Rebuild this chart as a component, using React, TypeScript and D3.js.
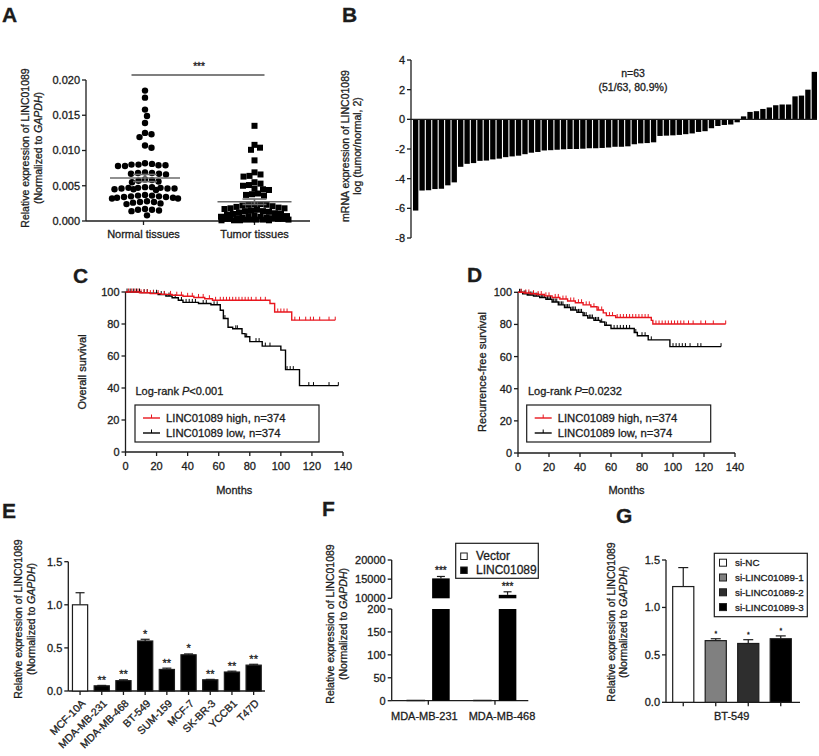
import React from 'react';
import * as d3 from 'd3';

const FONT = '"Liberation Sans", Arial, Helvetica, sans-serif';
const INK = '#1c1c1c';
const RED = '#e8161e';
const AXW = 1.3;

// ---------- Panel A ----------
const aCategories = ['Normal tissues', 'Tumor tissues'];
const aYTicks = [0, 0.005, 0.01, 0.015, 0.02];
const normalTissues = [
  0.0185, 0.0175, 0.0158, 0.0149, 0.0139, 0.0125, 0.0123, 0.0119, 0.0107, 0.0104,
  0.0082, 0.0081, 0.0080, 0.0080, 0.0079, 0.0079, 0.0078, 0.0078,
  0.0069, 0.0068, 0.0068, 0.0067, 0.0067, 0.0066,
  0.0059, 0.0058, 0.0057, 0.0056, 0.0055,
  0.0048, 0.0048, 0.0047, 0.0047, 0.0047, 0.0046, 0.0046, 0.0046, 0.0045, 0.0045, 0.0044,
  0.0037, 0.0036, 0.0036, 0.0035, 0.0035, 0.0034, 0.0034, 0.0033, 0.0033, 0.0032, 0.0032,
  0.0028, 0.0027, 0.0027, 0.0026, 0.0025, 0.0024,
  0.0017, 0.0016, 0.0016, 0.0015, 0.0014,
  0.0008,
];
const tumorTissues = [
  0.0135, 0.0108, 0.0104, 0.0101, 0.0086,
  0.0069, 0.0066, 0.0064, 0.0063,
  0.0055, 0.0053, 0.0051, 0.0050,
  0.0046, 0.0045, 0.0044,
  0.0039, 0.0038, 0.0037, 0.0036,
  0.0024, 0.0024, 0.0023, 0.0023, 0.0022, 0.0021, 0.0020, 0.0019, 0.0018, 0.0018,
  0.0017, 0.0016, 0.0015, 0.0014, 0.0014, 0.0013, 0.0012, 0.0011, 0.0010, 0.0010,
  0.0009, 0.0008, 0.0007, 0.0007, 0.0006, 0.0006, 0.0005, 0.0005, 0.0004, 0.0004,
  0.0003, 0.0003, 0.0003, 0.0003, 0.0002, 0.0002, 0.0002, 0.0002, 0.0002, 0.0001,
  0.0001, 0.0001, 0.0001,
];

// ---------- Panel B ----------
const bYTicks = [-8, -6, -4, -2, 0, 2, 4];
const bFoldChange = [
  -6.15, -4.8, -4.78, -4.7, -4.68, -4.45, -4.25, -3.2, -3.0, -2.95,
  -2.8, -2.78, -2.7, -2.65, -2.55, -2.5, -2.45, -2.35, -2.25, -2.2,
  -2.1, -2.08, -2.05, -2.02, -2.0, -2.0, -1.98, -1.95, -1.95, -1.93,
  -1.9, -1.85, -1.85, -1.82, -1.68, -1.62, -1.6, -1.55, -1.12, -1.1,
  -1.08, -1.05, -1.0, -0.95, -0.85, -0.8, -0.6, -0.45, -0.38, -0.35,
  -0.2, 0.2, 0.5, 0.55, 0.7, 0.8, 0.95, 1.0, 1.0, 1.55,
  1.6, 2.0, 3.2,
];

// ---------- Panels C / D (Kaplan-Meier) ----------
const kmXTicks = [0, 20, 40, 60, 80, 100, 120, 140];
const kmYTicks = [0, 20, 40, 60, 80, 100];
const kmSeries = ['LINC01089 high, n=374', 'LINC01089 low, n=374'];

const osHighSteps: [number, number][] = [
  [0, 100], [9, 99.5], [16, 99.0], [23, 98.5], [30, 98.0], [37, 97.3], [44, 96.6], [51, 95.8],
  [56, 94.8], [93, 92.8], [96, 87.5], [107, 82.4],
];
const osHighEnd = 135;
const osHighCensor = [2, 4, 6, 8, 10, 12, 14, 16, 18, 21, 25, 29, 33, 36, 40, 43, 47, 50, 54, 58, 61, 63, 65, 67, 69, 71, 73, 75, 77, 79, 81, 84, 87, 90, 98, 100, 102, 104, 109, 112, 116, 119, 121, 125, 131, 135];

const osLowSteps: [number, number][] = [
  [0, 100], [10, 99.6], [16, 99.2], [21, 98.4], [26, 97.5], [30, 96.4], [34, 94.8], [37, 93.5],
  [47, 92.8], [55, 92.0], [61, 88.6], [63, 83.4], [66, 78], [69, 77], [75, 74], [77, 72], [80, 69],
  [88, 66.2], [100, 63.7], [103, 51.5], [112, 41.5],
];
const osLowEnd = 137;
const osLowCensor = [1, 3, 5, 7, 9, 12, 14, 18, 20, 23, 25, 28, 32, 36, 39, 41, 43, 45, 50, 52, 57, 59, 64, 71, 72, 78, 84, 86, 90, 93, 104, 106, 108, 118, 121, 131, 137];

const rfsHighSteps: [number, number][] = [
  [0, 100], [4, 99.6], [8, 99.1], [12, 98.6], [17, 97.8], [22, 96.8], [27, 95.8], [32, 94.6],
  [37, 93.5], [42, 92.2], [47, 91], [51, 89], [55, 87.2], [57, 85.5], [63, 84.3], [86, 82.5], [87, 80.3],
];
const rfsHighEnd = 134;
const rfsHighCensor = [2, 5, 7, 10, 13, 15, 18, 20, 24, 26, 29, 31, 34, 36, 39, 41, 44, 46, 49, 52, 54, 59, 61, 64, 66, 68, 70, 72, 74, 76, 78, 80, 82, 84, 89, 91, 93, 95, 97, 99, 101, 103, 105, 107, 110, 113, 118, 121, 126, 134];

const rfsLowSteps: [number, number][] = [
  [0, 100], [3, 99], [6, 98.3], [10, 97.6], [14, 96.8], [18, 95.7], [22, 94], [26, 92.2], [30, 90.5],
  [34, 89], [38, 87.5], [42, 85.5], [45, 84], [49, 82.5], [53, 81.5], [56, 79.5], [60, 77.5],
  [75, 75], [77, 73], [84, 70.4], [98, 66.2],
];
const rfsLowEnd = 131;
const rfsLowCensor = [1, 2, 4, 5, 7, 8, 9, 11, 12, 13, 15, 16, 17, 19, 20, 21, 23, 24, 25, 27, 28, 29, 31, 32, 33, 35, 36, 37, 39, 40, 41, 43, 44, 46, 47, 48, 50, 51, 52, 54, 57, 62, 64, 66, 68, 70, 72, 76, 80, 82, 86, 100, 102, 104, 106, 108, 111, 116, 118, 131];

// ---------- Panel E ----------
const cellLines = ['MCF-10A', 'MDA-MB-231', 'MDA-MB-468', 'BT-549', 'SUM-159', 'MCF-7', 'SK-BR-3', 'YCCB1', 'T47D'];
const cellExpr = [1.0, 0.06, 0.12, 0.58, 0.25, 0.42, 0.13, 0.22, 0.30];
const cellErr = [0.14, 0.005, 0.01, 0.02, 0.015, 0.01, 0.005, 0.01, 0.01];
const cellSig = ['', '**', '**', '*', '**', '*', '**', '**', '**'];
const eYTicks = [0, 0.5, 1.0, 1.5];

// ---------- Panel F ----------
const fGroups = ['MDA-MB-231', 'MDA-MB-468'];
const fSeries = ['Vector', 'LINC01089'];
const fVector = [1, 1];
const fLinc = [15200, 10900];
const fLincErr = [500, 800];
const fSig = ['***', '***'];
const fUpperTicks = [10000, 15000, 20000];
const fLowerTicks = [0, 50, 100, 150, 200];

// ---------- Panel G ----------
const gSeries = ['si-NC', 'si-LINC01089-1', 'si-LINC01089-2', 'si-LINC01089-3'];
const gValues = [1.22, 0.65, 0.62, 0.67];
const gErr = [0.2, 0.02, 0.04, 0.03];
const gSig = ['', '*', '*', '*'];
const gFills = ['#ffffff', '#808080', '#2e2e2e', '#000000'];
const gCategory = 'BT-549';
const gYTicks = [0, 0.5, 1.0, 1.5];

// ---------- helpers ----------
// Compact swarm: closest free slot to centre within ±maxHalf; if none, the slot with the least overlap.
function swarm(values: number[], y: (v: number) => number, cx: number, r: number, maxHalf: number) {
  const pts = values.map((v) => ({ v, y: y(v), x: cx })).sort((a, b) => b.v - a.v);
  const placed: { v: number; x: number; y: number }[] = [];
  const d = 2 * r;
  const cands: number[] = [cx];
  for (let k = 0.5; k <= maxHalf; k += 0.5) cands.push(cx + k, cx - k);
  for (const p of pts) {
    const near = placed.filter((q) => Math.abs(q.y - p.y) < d);
    let best = cx;
    let bestScore = -Infinity;
    for (const c of cands) {
      let minD = Infinity;
      for (const q of near) {
        const dd = Math.hypot(q.x - c, q.y - p.y);
        if (dd < minD) minD = dd;
      }
      if (minD >= d - 1e-6) { best = c; break; }
      if (minD > bestScore + 1e-6) { bestScore = minD; best = c; }
    }
    placed.push({ ...p, x: best });
  }
  return placed;
}

function YAxis({ scale, ticks, x, fmt, fs = 11, from, to }: any) {
  const y0 = from ?? scale.range()[0];
  const y1 = to ?? scale.range()[1];
  return (
    <g>
      <line x1={x} x2={x} y1={y0} y2={y1} stroke={INK} strokeWidth={AXW} />
      {ticks.map((t: number) => (
        <g key={t}>
          <line x1={x - 4} x2={x} y1={scale(t)} y2={scale(t)} stroke={INK} strokeWidth={AXW} />
          <text x={x - 6} y={scale(t)} dy="0.36em" textAnchor="end" fontSize={fs}>{fmt(t)}</text>
        </g>
      ))}
    </g>
  );
}

function RotText({ cx, cy, fs = 10.5, children }: any) {
  return (
    <text transform={`translate(${cx + fs * 0.35},${cy}) rotate(-90)`} textAnchor="middle" fontSize={fs}>{children}</text>
  );
}

function ExprTitle({ x1, x2, cy }: any) {
  return (
    <g>
      <RotText cx={x1} cy={cy}>Relative expression of LINC01089</RotText>
      <RotText cx={x2} cy={cy}>(Normalized to <tspan fontStyle="italic">GAPDH</tspan>)</RotText>
    </g>
  );
}

function PanelLabel({ x, y, children }: any) {
  return <text x={x} y={y} fontSize={21} fontWeight="bold">{children}</text>;
}

// ---------- Panel A ----------
function PanelA() {
  const y = d3.scaleLinear().domain([0, 0.02]).range([221, 80]);
  const x = d3.scalePoint<string>().domain(aCategories).range([88, 310]).padding(0.5);
  const nx = x(aCategories[0])!;
  const tx = x(aCategories[1])!;
  const centers = [nx + 1.5, tx];
  const nPts = swarm(normalTissues, y, centers[0], 3.3, 33);
  const tPts = swarm(tumorTissues, y, centers[1], 3.0, 34);
  const stats = [normalTissues, tumorTissues].map((arr) => ({
    m: d3.mean(arr)!,
    se: d3.deviation(arr)! / Math.sqrt(arr.length),
  }));
  const halfW = [35, 37];
  return (
    <g>
      <PanelLabel x={2} y={22}>A</PanelLabel>
      <ExprTitle x1={25} x2={38} cy={148} />
      <YAxis scale={y} ticks={aYTicks} x={86} fmt={d3.format('.3f')} />
      <line x1={86} x2={310} y1={221} y2={221} stroke={INK} strokeWidth={AXW} />
      {aCategories.map((c) => (
        <g key={c}>
          <line x1={x(c)} x2={x(c)} y1={221} y2={225} stroke={INK} strokeWidth={AXW} />
          <text x={x(c)} y={238} textAnchor="middle" fontSize={11}>{c}</text>
        </g>
      ))}
      {nPts.map((p, i) => <circle key={i} cx={p.x} cy={p.y} r={3.2} fill="#000" />)}
      {tPts.map((p, i) => <rect key={i} x={p.x - 3} y={p.y - 3} width={6} height={6} fill="#000" />)}
      {stats.map((s, i) => (
        <g key={i} stroke="#6b6b6b" strokeWidth={1.6}>
          <line x1={centers[i] - halfW[i]} x2={centers[i] + halfW[i]} y1={y(s.m)} y2={y(s.m)} />
          <line x1={centers[i] - 12} x2={centers[i] + 12} y1={y(s.m + s.se)} y2={y(s.m + s.se)} />
          <line x1={centers[i] - 12} x2={centers[i] + 12} y1={y(s.m - s.se)} y2={y(s.m - s.se)} />
          <line x1={centers[i]} x2={centers[i]} y1={y(s.m + s.se)} y2={y(s.m - s.se)} />
        </g>
      ))}
      <line x1={nx - 12} x2={tx + 10} y1={75} y2={75} stroke="#555" strokeWidth={1.6} />
      <text x={(nx + tx) / 2} y={70} textAnchor="middle" fontSize={10}>***</text>
    </g>
  );
}

// ---------- Panel B ----------
function PanelB() {
  const y = d3.scaleLinear().domain([-8, 4]).range([238, 60]);
  const x = d3.scaleBand<number>().domain(d3.range(bFoldChange.length)).range([413, 817]).paddingInner(0.17);
  const n = bFoldChange.length;
  const neg = bFoldChange.filter((v) => v < 0).length;
  const pct = (Math.floor((neg / n) * 1000) / 10).toFixed(1);
  return (
    <g>
      <PanelLabel x={342} y={22}>B</PanelLabel>
      <RotText cx={345} cy={146}>mRNA expression of LINC01089</RotText>
      <RotText cx={357} cy={146}>log (tumor/normal, 2)</RotText>
      <YAxis scale={y} ticks={bYTicks} x={411} fmt={(t: number) => String(t)} />
      {bFoldChange.map((v, i) => (
        <rect key={i} x={x(i)} width={x.bandwidth()} y={Math.min(y(v), y(0))} height={Math.abs(y(v) - y(0))} fill="#000" />
      ))}
      <line x1={411} x2={817} y1={y(0)} y2={y(0)} stroke={INK} strokeWidth={1.4} />
      <text x={633} y={77} textAnchor="middle" fontSize={10.5}>n={n}</text>
      <text x={633} y={91} textAnchor="middle" fontSize={10.5}>({neg}/{n}, {pct}%)</text>
    </g>
  );
}

// ---------- Panels C / D ----------
function survAt(steps: [number, number][], t: number) {
  let s = steps[0][1];
  for (const [tt, ss] of steps) { if (tt <= t) s = ss; else break; }
  return s;
}

function KMCurve({ steps, end, censor, x, y, color }: any) {
  const pts: [number, number][] = [...steps, [end, steps[steps.length - 1][1]]];
  const line = d3.line<[number, number]>().x((d) => x(d[0])).y((d) => y(d[1])).curve(d3.curveStepAfter);
  return (
    <g>
      <path d={line(pts)!} fill="none" stroke={color} strokeWidth={1.4} />
      {censor.map((t: number, i: number) => {
        const s = survAt(steps, t);
        return <line key={i} x1={x(t)} x2={x(t)} y1={y(s)} y2={y(s) - 3.5} stroke={color} strokeWidth={1} />;
      })}
    </g>
  );
}

function KMPanel({ label, lx, ly, x0, x1, yb, yt, title, titleX, pText, legendX, high, low }: any) {
  const x = d3.scaleLinear().domain([0, 140]).range([x0, x1]);
  const y = d3.scaleLinear().domain([0, 100]).range([yb, yt]);
  const colors = [RED, '#000'];
  return (
    <g>
      <PanelLabel x={lx} y={ly}>{label}</PanelLabel>
      <RotText cx={titleX} cy={372} fs={11}>{title}</RotText>
      <YAxis scale={y} ticks={kmYTicks} x={x0} fmt={(t: number) => String(t)} />
      <line x1={x0} x2={x1} y1={yb} y2={yb} stroke={INK} strokeWidth={AXW} />
      {kmXTicks.map((t) => (
        <g key={t}>
          <line x1={x(t)} x2={x(t)} y1={yb} y2={yb + 4} stroke={INK} strokeWidth={AXW} />
          <text x={x(t)} y={yb + 18} textAnchor="middle" fontSize={11}>{t}</text>
        </g>
      ))}
      <text x={(x0 + x1) / 2} y={494} textAnchor="middle" fontSize={11}>Months</text>
      <KMCurve {...low} x={x} y={y} color="#000" />
      <KMCurve {...high} x={x} y={y} color={RED} />
      <text x={x0 + 10} y={395} fontSize={11}>Log-rank <tspan fontStyle="italic">P</tspan>{pText}</text>
      <rect x={legendX} y={405} width={184} height={37} fill="#fff" stroke={INK} strokeWidth={1.2} />
      {kmSeries.map((s, i) => {
        const ry = 418 + i * 15;
        return (
          <g key={s}>
            <line x1={legendX + 8} x2={legendX + 25} y1={ry} y2={ry} stroke={colors[i]} strokeWidth={1.4} />
            <line x1={legendX + 16.5} x2={legendX + 16.5} y1={ry} y2={ry - 3.5} stroke={colors[i]} strokeWidth={1} />
            <text x={legendX + 31} y={ry + 4} fontSize={11.3}>{s}</text>
          </g>
        );
      })}
    </g>
  );
}

// ---------- Panel E ----------
function PanelE() {
  const y = d3.scaleLinear().domain([0, 1.5]).range([691, 561.7]);
  const x = d3.scaleBand<string>().domain(cellLines).range([69.2, 264.5]).paddingInner(0.3).paddingOuter(0.15);
  const bw = x.bandwidth();
  return (
    <g>
      <PanelLabel x={2} y={518}>E</PanelLabel>
      <ExprTitle x1={18} x2={31} cy={619} />
      <YAxis scale={y} ticks={eYTicks} x={68.3} fmt={d3.format('.1f')} />
      <line x1={68.3} x2={265} y1={691} y2={691} stroke={INK} strokeWidth={AXW} />
      {cellLines.map((c, i) => {
        const cx = x(c)! + bw / 2;
        const top = y(cellExpr[i] + cellErr[i]);
        return (
          <g key={c}>
            <line x1={cx} x2={cx} y1={691} y2={695} stroke={INK} strokeWidth={AXW} />
            <line x1={cx} x2={cx} y1={y(cellExpr[i])} y2={top} stroke={INK} strokeWidth={1.2} />
            <line x1={cx - 4.5} x2={cx + 4.5} y1={top} y2={top} stroke={INK} strokeWidth={1.2} />
            <rect x={x(c)} width={bw} y={y(cellExpr[i])} height={691 - y(cellExpr[i])}
              fill={i === 0 ? '#fff' : '#000'} stroke={INK} strokeWidth={1.2} />
            <text x={cx} y={top - 1.5} textAnchor="middle" fontSize={11}>{cellSig[i]}</text>
            <text transform={`translate(${cx + 6},${704}) rotate(-45)`} textAnchor="end" fontSize={10.5}>{c}</text>
          </g>
        );
      })}
    </g>
  );
}

// ---------- Panel F ----------
function PanelF() {
  const yLow = d3.scaleLinear().domain([0, 200]).range([700.7, 609]);
  const yUp = d3.scaleLinear().domain([10000, 20000]).range([598.3, 560]);
  const x = d3.scaleBand<string>().domain(fGroups).range([395, 528.3]);
  const xs = d3.scaleBand<string>().domain(fSeries).range([12, 54.7]).paddingInner(0.3);
  const bw = xs.bandwidth();
  const ax = 391.7;
  const labelShift = [-4, 7];
  return (
    <g>
      <PanelLabel x={322} y={516}>F</PanelLabel>
      <ExprTitle x1={330.5} x2={343} cy={624} />
      <YAxis scale={yUp} ticks={fUpperTicks} x={ax} fmt={(t: number) => String(t)} />
      <YAxis scale={yLow} ticks={fLowerTicks} x={ax} fmt={(t: number) => String(t)} />
      <line x1={ax} x2={528.3} y1={700.7} y2={700.7} stroke={INK} strokeWidth={AXW} />
      {fGroups.map((g, i) => {
        const gx = x(g)!;
        const cx = gx + x.bandwidth() / 2;
        const vx = gx + xs('Vector')!;
        const lx = gx + xs('LINC01089')!;
        const v = fLinc[i];
        const errTop = yUp(v + fLincErr[i]);
        return (
          <g key={g}>
            <line x1={cx} x2={cx} y1={700.7} y2={704.7} stroke={INK} strokeWidth={AXW} />
            <text x={cx + labelShift[i]} y={720} textAnchor="middle" fontSize={11}>{g}</text>
            <rect x={vx} width={bw} y={yLow(fVector[i])} height={700.7 - yLow(fVector[i])} fill="#fff" stroke={INK} strokeWidth={1} />
            <rect x={lx} width={bw} y={yLow(Math.min(v, 200))} height={700.7 - yLow(Math.min(v, 200))} fill="#000" />
            <rect x={lx} width={bw} y={yUp(v)} height={yUp(10000) - yUp(v)} fill="#000" />
            <line x1={lx + bw / 2} x2={lx + bw / 2} y1={yUp(v)} y2={errTop} stroke={INK} strokeWidth={1.2} />
            <line x1={lx + bw / 2 - 4} x2={lx + bw / 2 + 4} y1={errTop} y2={errTop} stroke={INK} strokeWidth={1.2} />
            <text x={lx + bw / 2} y={errTop - 2} textAnchor="middle" fontSize={10}>{fSig[i]}</text>
          </g>
        );
      })}
      <rect x={455.7} y={543.3} width={82.6} height={35} fill="#fff" stroke={INK} strokeWidth={1.2} />
      {fSeries.map((s, i) => {
        const ry = 556 + i * 14;
        return (
          <g key={s}>
            <rect x={460.7} y={ry - 3} width={6.5} height={6.5} fill={i === 0 ? '#fff' : '#000'} stroke={INK} strokeWidth={1} />
            <text x={476} y={ry + 4.3} fontSize={12}>{s}</text>
          </g>
        );
      })}
    </g>
  );
}

// ---------- Panel G ----------
function PanelG() {
  const y = d3.scaleLinear().domain([0, 1.5]).range([702.3, 560]);
  const x = d3.scaleBand<string>().domain(gSeries).range([667, 797]).paddingInner(0.35).paddingOuter(0.175);
  const bw = x.bandwidth();
  return (
    <g>
      <PanelLabel x={616} y={523}>G</PanelLabel>
      <ExprTitle x1={611} x2={623} cy={622} />
      <YAxis scale={y} ticks={gYTicks} x={666} fmt={d3.format('.1f')} />
      <line x1={666} x2={800} y1={702.3} y2={702.3} stroke={INK} strokeWidth={AXW} />
      <text x={731.7} y={720} textAnchor="middle" fontSize={11}>{gCategory}</text>
      {gSeries.map((s, i) => {
        const cx = x(s)! + bw / 2;
        const top = y(gValues[i] + gErr[i]);
        return (
          <g key={s}>
            <line x1={cx} x2={cx} y1={702.3} y2={706.3} stroke={INK} strokeWidth={AXW} />
            <line x1={cx} x2={cx} y1={y(gValues[i])} y2={top} stroke={INK} strokeWidth={1.2} />
            <line x1={cx - 5} x2={cx + 5} y1={top} y2={top} stroke={INK} strokeWidth={1.2} />
            <rect x={x(s)} width={bw} y={y(gValues[i])} height={702.3 - y(gValues[i])} fill={gFills[i]} stroke={INK} strokeWidth={1.2} />
            <text x={cx} y={top - 3} textAnchor="middle" fontSize={7}>{gSig[i]}</text>
          </g>
        );
      })}
      <rect x={714.3} y={553.3} width={93} height={63.4} fill="#fff" stroke={INK} strokeWidth={1.2} />
      {gSeries.map((s, i) => {
        const ry = 562.7 + i * 14.8;
        return (
          <g key={s}>
            <rect x={719.5} y={ry - 3.5} width={7} height={7} fill={gFills[i]} stroke={INK} strokeWidth={1} />
            <text x={735} y={ry + 3.6} fontSize={9.8}>{s}</text>
          </g>
        );
      })}
    </g>
  );
}

export default function App() {
  return (
    <svg width={819} height={756} viewBox="0 0 819 756"
      style={{ position: 'absolute', left: 0, top: 0, background: '#fff', fontFamily: FONT }} fill={INK}>
      <style>{`text { stroke: ${INK}; stroke-width: 0.3px; }`}</style>
      <rect width={819} height={756} fill="#fff" />
      <PanelA />
      <PanelB />
      <KMPanel label="C" lx={73} ly={283} x0={125.5} x1={343} yb={452} yt={292}
        title="Overall survival" titleX={82.5} pText="<0.001" legendX={135}
        high={{ steps: osHighSteps, end: osHighEnd, censor: osHighCensor }}
        low={{ steps: osLowSteps, end: osLowEnd, censor: osLowCensor }} />
      <KMPanel label="D" lx={467} ly={282} x0={518} x1={735} yb={453} yt={292.3}
        title="Recurrence-free survival" titleX={481.7} pText="=0.0232" legendX={526.7}
        high={{ steps: rfsHighSteps, end: rfsHighEnd, censor: rfsHighCensor }}
        low={{ steps: rfsLowSteps, end: rfsLowEnd, censor: rfsLowCensor }} />
      <PanelE />
      <PanelF />
      <PanelG />
    </svg>
  );
}
